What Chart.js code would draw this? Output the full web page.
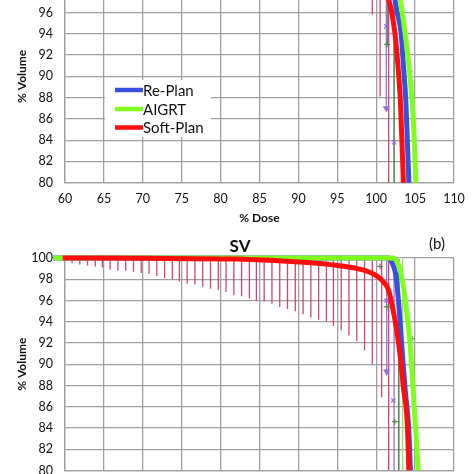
<!DOCTYPE html>
<html>
<head>
<meta charset="utf-8">
<script src="https://cdn.jsdelivr.net/npm/chart.js@4.4.1/dist/chart.umd.min.js"></script>
<style>
  html, body { margin: 0; padding: 0; background: #fff; overflow: hidden; width: 474px; height: 474px; position: relative; }
  canvas { position: absolute; left: 0; }
  #chartA { top: -50px; }
  #chartB { top: 230px; }
</style>
</head>
<body>
<canvas id="chartA" width="474" height="280"></canvas>
<canvas id="chartB" width="474" height="300"></canvas>
<script>
// ---- datos ----
const seriesNames = ['Re-Plan', 'AIGRT', 'Soft-Plan'];
const doseTitle = '% Dose';
const volumeTitle = '% Volume';

// (a) curvas DVH
const replanDoseA = [99.5, 101.0, 101.9, 102.4, 102.7, 103.2, 103.5, 103.8, 104.0, 104.2, 104.25];
const replanVolA  = [100, 99.4, 98.3, 97.2, 96.0, 94.1, 91.0, 87.8, 84.0, 80.0, 79.0];
const aigrtDoseA  = [101.5, 102.2, 102.6, 103.1, 103.7, 104.2, 104.6, 104.9, 105.1, 105.15];
const aigrtVolA   = [100, 99.6, 98.6, 97.2, 94.1, 91.0, 87.8, 84.0, 80.0, 79.0];
const softDoseA   = [96.0, 99.5, 100.9, 101.6, 102.0, 102.4, 102.8, 103.1, 103.3, 103.5, 103.55];
const softVolA    = [99.8, 99.3, 98.4, 97.2, 96.0, 94.1, 91.0, 87.8, 84.0, 80.0, 79.0];

// (a) barras finas (dosis, volumen final)
const pinkDoseA = [99.5, 100.5, 101.6];
const pinkLowA  = [95.8, 88.1, 79];
const purpleDoseA = [101.3];
const purpleLowA  = [87.0];
const dkGreenDoseA = [101.4, 102.3];
const dkGreenLowA  = [93.0, 79];
const crossDoseA = [101.3, 102.3];
const crossVolA  = [94.7, 83.8];
const plusDoseA = [101.4, 104.3];
const plusVolA  = [93.0, 90.5];

// (b) SV curvas DVH
const replanDoseB = [58.5, 101.6, 102.0, 102.5, 102.9, 103.3, 103.7, 104.2, 104.4];
const replanVolB  = [100, 100, 99.6, 98.5, 95.7, 91.6, 87.8, 83.7, 80.0];
const aigrtDoseB  = [58.5, 102.2, 102.7, 103.1, 103.7, 104.2, 104.6, 105.0, 105.4];
const aigrtVolB   = [100, 100, 99.6, 98.8, 96.3, 93.2, 89.4, 84.7, 80.0];
const softDoseB   = [59.7, 70, 82, 90.7, 95, 98.4, 100.1, 101.0, 101.6, 102.0, 102.5, 103.1, 103.5, 104.0, 104.2];
const softVolB    = [100, 99.97, 99.9, 99.6, 99.3, 98.85, 98.3, 97.7, 96.95, 95.7, 93.8, 90.7, 87.8, 84.4, 80.0];

// (b) barras de error rosadas
const errDoseB = [58.9, 59.9, 60.9, 61.9, 62.9, 63.9, 64.8, 65.8, 66.8, 67.8, 68.8, 69.8, 70.8, 71.8,
  72.8, 73.8, 74.7, 75.7, 76.7, 77.7, 78.7, 79.7, 80.7, 81.7, 82.7, 83.7, 84.6, 85.6, 86.6, 87.6,
  88.6, 89.6, 90.6, 91.6, 92.6, 93.6, 94.5, 95.5, 96.5, 97.5, 98.5, 99.5];
const errLowB = [99.6, 99.5, 99.5, 99.4, 99.3, 99.2, 99.1, 98.9, 98.8, 98.8, 98.7, 98.6, 98.5, 98.3,
  98.1, 98.0, 97.8, 97.6, 97.5, 97.3, 97.1, 97.0, 96.8, 96.5, 96.4, 96.2, 96.0, 95.9, 95.7, 95.4,
  95.2, 95.0, 94.7, 94.4, 94.2, 94.0, 93.6, 93.2, 92.7, 92.2, 91.3, 90.0];
const errTopB = 99.9;
const pinkDoseB = [100.7, 101.6];
const pinkLowB  = [86.9, 80];
const purpleDoseB = [101.35, 102.3];
const purpleLowB  = [89.3, 80];
const dkGreenDoseB = [102.9];
const dkGreenLowB  = [80];
const ltGreenDoseB = [103.4];
const ltGreenLowB  = [80];
const crossDoseB = [101.3, 102.2];
const crossVolB  = [96.0, 86.6];
const plusDoseB = [100.5, 101.35, 104.6, 102.4];
const plusVolB  = [99.2, 95.4, 92.4, 84.6];

const colors = { replan: '#3a4fe0', aigrt: '#7fff1f', soft: '#ff0d0d', pink: '#d2437a', purple: '#9a70d6', dkGreen: '#4f8a4f', ltGreen: '#9be060', grid: '#a0a0a0' };

Chart.defaults.font.family = "Lato, 'Open Sans', sans-serif";
Chart.defaults.color = '#111';

function curve(dose, vol) { return dose.map((d, i) => ({ x: d, y: vol[i] })); }
function bars(dose, top, low) {
  const pts = [];
  dose.forEach((d, i) => { pts.push({ x: d, y: top }, { x: d, y: low[i] }, { x: d, y: null }); });
  return pts;
}
function mainLine(label, data, color, clip) {
  return { type: 'line', label, data, borderColor: color, borderWidth: 5, pointRadius: 0,
    cubicInterpolationMode: 'monotone', borderJoinStyle: 'round', clip };
}
function thinLine(data, color, width, clip) {
  return { type: 'line', data, borderColor: color, borderWidth: width, pointRadius: 0, spanGaps: false, tension: 0, clip };
}
function marks(data, color, style, rot) {
  return { type: 'scatter', data, borderColor: color, backgroundColor: color, pointStyle: style,
    pointRadius: 3, borderWidth: 1.2, rotation: rot || 0, clip: 0 };
}

// leyenda dentro del área del gráfico
const boxLegend = {
  id: 'boxLegend',
  afterDatasetsDraw(chart, args, opts) {
    if (!opts.show) return;
    const { ctx, chartArea: a } = chart;
    ctx.save();
    ctx.fillStyle = '#fff';
    ctx.fillRect(a.left + 40, a.top + 110, 106, 57);
    const cols = [colors.replan, colors.aigrt, colors.soft];
    const rows = [120, 139, 157.5];
    ctx.font = "15px Lato, sans-serif";
    ctx.textBaseline = 'middle';
    seriesNames.forEach((name, i) => {
      ctx.strokeStyle = cols[i];
      ctx.lineWidth = 4.5;
      ctx.beginPath();
      ctx.moveTo(a.left + 50, a.top + rows[i]);
      ctx.lineTo(a.left + 78, a.top + rows[i]);
      ctx.stroke();
      ctx.fillStyle = '#111';
      ctx.fillText(name, a.left + 78, a.top + rows[i] + 1);
    });
    ctx.restore();
  }
};

// título SV y (b)
const panelTitle = {
  id: 'panelTitle',
  afterDraw(chart, args, opts) {
    if (!opts.text) return;
    const ctx = chart.ctx;
    ctx.save();
    ctx.fillStyle = '#111';
    ctx.textAlign = 'center';
    ctx.textBaseline = 'middle';
    ctx.font = "bold 17px Lato, sans-serif";
    ctx.fillText(opts.text, 240, 17);
    ctx.font = "15px Lato, sans-serif";
    ctx.fillText(opts.tag, 437, 14.5);
    ctx.restore();
  }
};

function scalesFor(xHeight) {
  return {
    x: {
      type: 'linear', min: 60, max: 110,
      ticks: { stepSize: 5, padding: 9, font: { size: 12.5 } },
      grid: { color: colors.grid, lineWidth: 1.3, drawTicks: false },
      border: { color: colors.grid, width: 1.3 },
      title: { display: true, text: doseTitle, font: { size: 12, weight: 'bold' }, padding: { top: 0, bottom: 5 } },
      afterFit(s) { s.height = xHeight; }
    },
    y: {
      min: 80, max: 100,
      ticks: { stepSize: 2, padding: 12, font: { size: 12.5 } },
      grid: { color: colors.grid, lineWidth: 1.3, drawTicks: false },
      border: { color: colors.grid, width: 1.3 },
      title: { display: true, text: volumeTitle, font: { size: 12, weight: 'bold' }, padding: { top: 15, bottom: 0 } },
      afterFit(s) { s.width = 65; }
    }
  };
}

const baseOpts = { responsive: false, animation: false, events: [] };

new Chart(document.getElementById('chartA'), {
  data: {
    datasets: [
      mainLine(seriesNames[2], curve(softDoseA, softVolA), colors.soft, 0),
      mainLine(seriesNames[1], curve(aigrtDoseA, aigrtVolA), colors.aigrt, 0),
      mainLine(seriesNames[0], curve(replanDoseA, replanVolA), colors.replan, 0),
      marks(curve(crossDoseA, crossVolA), colors.purple, 'crossRot'),
      marks(curve(plusDoseA, plusVolA), colors.dkGreen, 'cross'),
      marks(curve(purpleDoseA, purpleLowA), colors.purple, 'triangle', 180),
      thinLine(bars(pinkDoseA, 100, pinkLowA), colors.pink, 1.3, 0),
      thinLine(bars(purpleDoseA, 100, purpleLowA), colors.purple, 1.3, 0),
      thinLine(bars(dkGreenDoseA, 100, dkGreenLowA), colors.dkGreen, 1.6, 0)
    ]
  },
  options: Object.assign({}, baseOpts, {
    layout: { padding: { top: 20, right: 20, bottom: 0, left: 0 } },
    plugins: { legend: { display: false }, tooltip: { enabled: false }, boxLegend: { show: true } },
    scales: scalesFor(47.3)
  }),
  plugins: [boxLegend]
});

const clipB = { left: 15, top: 4, right: 0, bottom: 0 };
new Chart(document.getElementById('chartB'), {
  data: {
    datasets: [
      mainLine(seriesNames[2], curve(softDoseB, softVolB), colors.soft, clipB),
      mainLine(seriesNames[1], curve(aigrtDoseB, aigrtVolB), colors.aigrt, clipB),
      mainLine(seriesNames[0], curve(replanDoseB, replanVolB), colors.replan, clipB),
      marks(curve(crossDoseB, crossVolB), colors.purple, 'crossRot'),
      marks(curve(plusDoseB, plusVolB), colors.dkGreen, 'cross'),
      marks(curve(purpleDoseB.slice(0, 1), purpleLowB.slice(0, 1)), colors.purple, 'triangle', 180),
      thinLine(bars(errDoseB, errTopB, errLowB), colors.pink, 1.3, clipB),
      thinLine(bars(pinkDoseB, errTopB, pinkLowB), colors.pink, 1.3, clipB),
      thinLine(bars(purpleDoseB, errTopB, purpleLowB), colors.purple, 1.3, clipB),
      thinLine(bars(dkGreenDoseB, errTopB, dkGreenLowB), colors.dkGreen, 1.6, clipB),
      thinLine(bars(ltGreenDoseB, errTopB, ltGreenLowB), colors.ltGreen, 1.3, clipB)
    ]
  },
  options: Object.assign({}, baseOpts, {
    layout: { padding: { top: 28, right: 20, bottom: 0, left: 0 } },
    plugins: { legend: { display: false }, tooltip: { enabled: false }, panelTitle: { text: 'SV', tag: '(b)' } },
    scales: scalesFor(59.5)
  }),
  plugins: [panelTitle]
});
</script>
</body>
</html>
